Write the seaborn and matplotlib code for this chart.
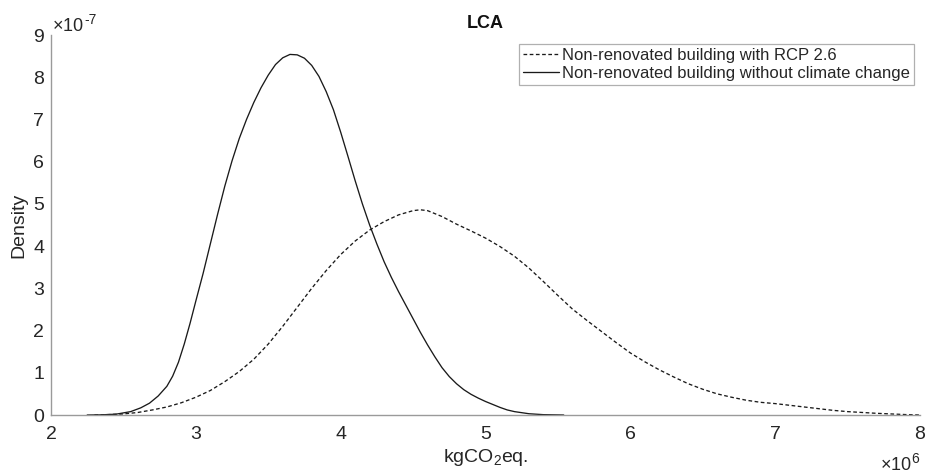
import matplotlib
matplotlib.use("Agg")
import matplotlib.pyplot as plt
import numpy as np
import pandas as pd
import seaborn as sns

# ---- data (x in units of 1e6 kgCO2eq., density in units of 1e-7) ----
label_rcp = "Non-renovated building with RCP 2.6"
label_nocc = "Non-renovated building without climate change"

x_rcp = [2.30, 2.40, 2.50, 2.60, 2.70, 2.80, 2.90, 3.00, 3.10, 3.20, 3.30, 3.40,
         3.50, 3.60, 3.70, 3.80, 3.90, 4.00, 4.10, 4.20, 4.30, 4.40, 4.50, 4.55,
         4.60, 4.70, 4.80, 4.90, 5.00, 5.10, 5.20, 5.30, 5.40, 5.50, 5.60, 5.70,
         5.80, 5.90, 6.00, 6.10, 6.20, 6.30, 6.40, 6.50, 6.60, 6.70, 6.80, 6.90,
         7.00, 7.10, 7.20, 7.30, 7.40, 7.50, 7.60, 7.70, 7.80, 7.90, 8.00]
y_rcp = [0.00, 0.01, 0.025, 0.06, 0.12, 0.19, 0.29, 0.42, 0.58, 0.79, 1.03, 1.32,
         1.68, 2.10, 2.55, 3.00, 3.42, 3.80, 4.12, 4.38, 4.58, 4.74, 4.84, 4.86,
         4.84, 4.70, 4.52, 4.36, 4.19, 3.99, 3.76, 3.48, 3.16, 2.83, 2.51, 2.24,
         1.98, 1.72, 1.47, 1.26, 1.07, 0.90, 0.74, 0.61, 0.50, 0.42, 0.35, 0.30,
         0.27, 0.23, 0.19, 0.15, 0.11, 0.08, 0.06, 0.04, 0.025, 0.01, 0.00]

x_nocc = [2.25, 2.35, 2.45, 2.55, 2.62, 2.68, 2.74, 2.80, 2.84, 2.88, 2.92, 2.96,
          3.00, 3.05, 3.10, 3.15, 3.20, 3.25, 3.30, 3.35, 3.40, 3.45, 3.50, 3.55,
          3.60, 3.65, 3.70, 3.75, 3.80, 3.85, 3.90, 3.95, 4.00, 4.05, 4.10, 4.15,
          4.20, 4.25, 4.30, 4.35, 4.40, 4.45, 4.50, 4.55, 4.60, 4.65, 4.70, 4.75,
          4.80, 4.85, 4.90, 4.95, 5.00, 5.05, 5.10, 5.15, 5.20, 5.30, 5.40, 5.54]
y_nocc = [0.00, 0.004, 0.02, 0.08, 0.17, 0.28, 0.45, 0.68, 0.92, 1.25, 1.68, 2.17,
          2.70, 3.35, 4.05, 4.75, 5.42, 6.02, 6.55, 7.00, 7.40, 7.75, 8.05, 8.30,
          8.46, 8.54, 8.53, 8.45, 8.28, 8.02, 7.66, 7.23, 6.70, 6.13, 5.55, 5.00,
          4.50, 4.05, 3.63, 3.26, 2.92, 2.60, 2.28, 1.96, 1.66, 1.38, 1.12, 0.91,
          0.74, 0.60, 0.49, 0.40, 0.32, 0.25, 0.18, 0.12, 0.08, 0.03, 0.008, 0.00]

x_ticks = [2, 3, 4, 5, 6, 7, 8]
y_ticks = [0, 1, 2, 3, 4, 5, 6, 7, 8, 9]
title = "LCA"
x_label = "kgCO$_2$eq."
y_label = "Density"

df = pd.concat([
    pd.DataFrame({"x": x_rcp, "y": y_rcp, "series": label_rcp}),
    pd.DataFrame({"x": x_nocc, "y": y_nocc, "series": label_nocc}),
], ignore_index=True)

sns.set_theme(style="white")
plt.rcParams["font.family"] = ["Liberation Sans", "DejaVu Sans"]
plt.rcParams["mathtext.fontset"] = "custom"
plt.rcParams["mathtext.rm"] = "Liberation Sans"
plt.rcParams["mathtext.it"] = "Liberation Sans:italic"
plt.rcParams["mathtext.bf"] = "Liberation Sans:bold"

W, H = 926, 473
fig = plt.figure(figsize=(W / 100, H / 100), dpi=100)
ax = fig.add_axes([51 / W, (H - 415) / H, (920 - 51) / W, (415 - 35) / H])

order = [label_rcp, label_nocc]
sns.lineplot(data=df, x="x", y="y", hue="series", style="series",
             hue_order=order, style_order=order,
             palette={label_rcp: "#1a1a1a", label_nocc: "#1a1a1a"},
             dashes={label_rcp: (2.8, 1.9), label_nocc: ""},
             estimator=None, sort=False, legend=False, linewidth=0.95, ax=ax)

ax.set_xlim(2, 8)
ax.set_ylim(0, 9)
ax.set_xticks(x_ticks)
ax.set_yticks(y_ticks)
ax.set_xticklabels([str(t) for t in x_ticks])
ax.set_yticklabels([str(t) for t in y_ticks])

axis_grey = "#9a9a9a"
for side in ["top", "right"]:
    ax.spines[side].set_visible(False)
for side in ["left", "bottom"]:
    ax.spines[side].set_color(axis_grey)
    ax.spines[side].set_linewidth(1.0)

ax.tick_params(axis="both", direction="in", length=5, width=0.9, color=axis_grey,
               labelcolor="#262626", labelsize=14)
ax.tick_params(axis="x", pad=8)
ax.tick_params(axis="y", pad=5)

ax.set_title(title, fontsize=13, fontweight="bold", color="#111111", pad=5)
ax.set_xlabel(x_label, fontsize=14, color="#262626")
ax.xaxis.set_label_coords(0.5, -0.085)
ax.set_ylabel(y_label, fontsize=14, color="#262626", labelpad=4)

fig.text(52 / W, 1 - 31 / H, r"$\times$10", fontsize=13, color="#262626",
         ha="left", va="baseline")
fig.text(84 / W, 1 - 24 / H, "-7", fontsize=10, color="#262626",
         ha="left", va="baseline")
fig.text(912 / W, 1 - 470 / H, r"$\times$10", fontsize=13, color="#262626",
         ha="right", va="baseline")
fig.text(911 / W, 1 - 463 / H, "6", fontsize=10, color="#262626",
         ha="left", va="baseline")

lines = ax.get_lines()
leg = ax.legend(handles=lines[:2], labels=order, loc="upper right",
                bbox_to_anchor=(914 / W, 1 - 44 / H), bbox_transform=fig.transFigure,
                fontsize=12, frameon=True, fancybox=False, framealpha=1,
                edgecolor="#b0b0b0", borderpad=0.25, handlelength=2.2,
                handletextpad=0.15, labelspacing=0.15, borderaxespad=0)
leg.get_frame().set_linewidth(0.9)
for t in leg.get_texts():
    t.set_color("#262626")

fig.savefig("out.png", dpi=100, facecolor="white")
